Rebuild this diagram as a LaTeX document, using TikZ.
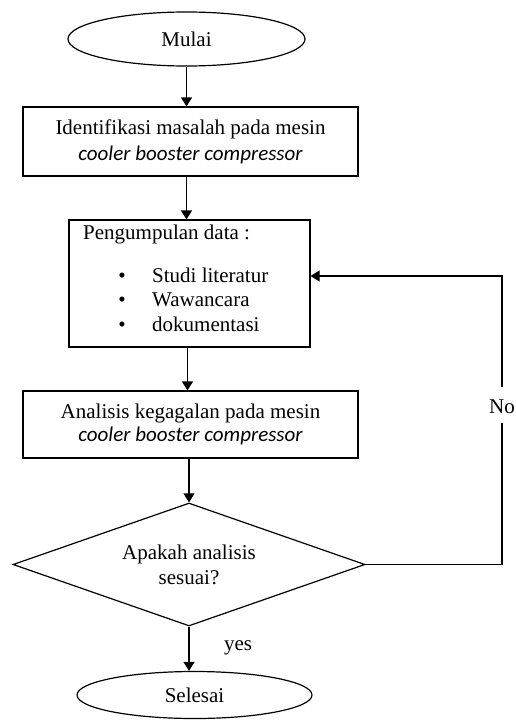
\documentclass[tikz,border=0pt]{standalone}
\usepackage{fontspec}
\setmainfont{Liberation Serif}
\newfontfamily\itfont{Carlito}[ItalicFont={* Italic}]
\usetikzlibrary{shapes.geometric,arrows.meta}
\begin{document}
\begin{tikzpicture}[x=1pt,y=-1pt,
  every node/.style={font=\fontsize{21}{25}\selectfont},
  box/.style={draw, line width=1.2pt, rectangle, align=center, inner sep=0pt},
  term/.style={draw, line width=1.2pt, ellipse, inner sep=0pt},
  decision/.style={draw, line width=1.2pt, diamond, inner sep=0pt, align=center},
  plain/.style={inner sep=0pt},
  arr/.style={line width=1.2pt, -{Triangle[length=9pt,width=11pt]}}]
\useasboundingbox (0,0) rectangle (516,720);
\node[term, minimum width=237pt, minimum height=54pt] (start) at (186.5,39) {Mulai};
\node[box, minimum width=335pt, minimum height=69pt, font=\fontsize{21}{26}\selectfont] (b1) at (190.5,141.5)
  {Identifikasi masalah pada mesin\\{\itfont\itshape\fontsize{21}{26}\selectfont cooler booster compressor}};
\node[box, minimum width=241pt, minimum height=127pt] (b2) at (189.5,283.5) {};
\node[plain, anchor=base west] (t0) at (83,239) {Pengumpulan data :};
\node[plain, anchor=base] (u1) at (122,282) {•};
\node[plain, anchor=base] (u2) at (122,306) {•};
\node[plain, anchor=base] (u3) at (122,331) {•};
\node[plain, anchor=base west] (t1) at (152,282) {Studi literatur};
\node[plain, anchor=base west] (t2) at (152,306) {Wawancara};
\node[plain, anchor=base west] (t3) at (152,331) {dokumentasi};
\node[box, minimum width=335pt, minimum height=67pt, font=\fontsize{21}{23}\selectfont] (b3) at (190.5,424.5)
  {Analisis kegagalan pada mesin\\{\itfont\itshape\fontsize{21}{23}\selectfont cooler booster compressor}};
\node[decision, minimum width=352pt, minimum height=123pt] (dia) at (189,564.5) {};
\node[plain, align=center] (dt) at (189,564.5) {Apakah analisis\\sesuai?};
\node[term, minimum width=235pt, minimum height=47pt] (end) at (194.5,695) {Selesai};
\coordinate (fb) at (502,276);
\draw[arr] (start.south) -- (start.south |- b1.north);
\draw[arr] ([xshift=-4pt]b1.south) -- ([xshift=-4pt]b1.south |- b2.north);
\draw[arr] ([xshift=-2pt]b2.south) -- ([xshift=-2pt]b2.south |- b3.north);
\draw[arr] (dia.north |- b3.south) -- (dia.north);
\draw[arr] (dia.south) -- (dia.south |- end.north);
\draw[arr] (dia.east) -| (fb) -- (fb -| b2.east);
\node[plain, fill=white, anchor=base, text height=26pt, text depth=10pt] (no) at (502,413) {No};
\node[plain, anchor=base] (yes) at (238,650) {yes};
\end{tikzpicture}
\end{document}
